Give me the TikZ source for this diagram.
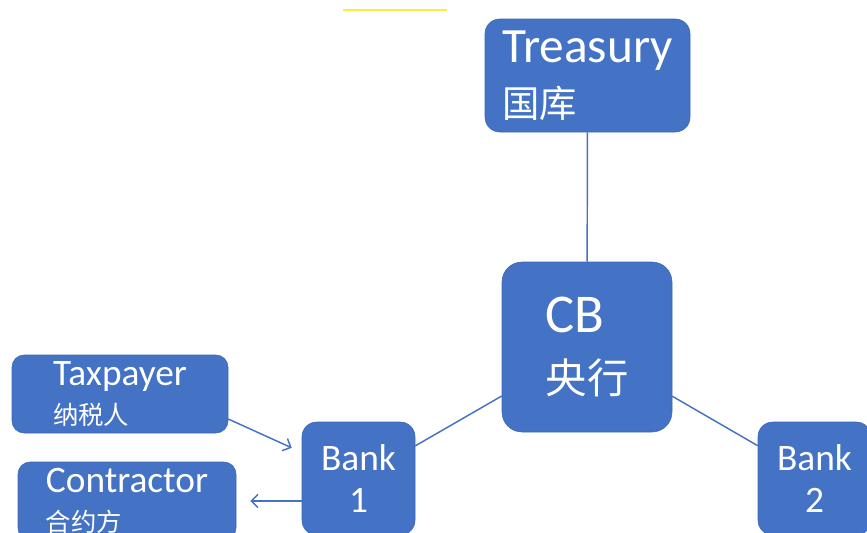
\documentclass[tikz,border=0pt]{standalone}
\usepackage{fontspec}
\setmainfont{Carlito}
\newfontfamily\cjk{Noto Sans CJK SC}
\usetikzlibrary{arrows.meta}
\definecolor{officeblue}{HTML}{4472C4}
\definecolor{markyellow}{HTML}{FFEB3B}

\begin{document}
\begin{tikzpicture}[x=0.75pt, y=-0.75pt,
    box/.style={draw=officeblue!90!black, fill=officeblue, text=white, align=left, inner sep=0pt, rounded corners=11pt},
    bankbox/.style={box, align=center, minimum width=84.75pt, minimum height=84.75pt, font=\fontsize{28}{31.5}\selectfont},
    link/.style={officeblue, line width=1.1pt},
    arrow/.style={link, -{Straight Barb[length=5pt,width=10pt]}}]
    \clip (0,0) rectangle (867,532);

    % Yellow mark at the top
    \draw[markyellow, line width=1.5pt] (343,10) -- (447,10);

    % Treasury and central bank
    \node[box, minimum width=153.75pt, minimum height=84.75pt, font=\fontsize{37}{41}\selectfont] (treasury) at (587.5,75.5)
        {Treasury\\{\cjk\fontsize{28}{28}\selectfont 国库}};
    \node[box, rounded corners=15pt, minimum width=127.5pt, minimum height=127.5pt, font=\fontsize{41}{46}\selectfont] (cb) at (587,347)
        {CB\\{\cjk\fontsize{31}{31}\selectfont 央行}};

    % Banks
    \node[bankbox] (bankone) at (358.5,478.5) {Bank\\1};
    \node[bankbox] (banktwo) at (814.5,478.5) {Bank\\2};

    % Taxpayer and contractor
    \node[box, rounded corners=9pt, minimum width=162pt, minimum height=58.5pt, font=\fontsize{28}{29}\selectfont] (taxpayer) at (120,394)
        {Taxpayer\\{\cjk\fontsize{19}{19}\selectfont 纳税人}};
    \node[box, rounded corners=9pt, minimum width=163.5pt, minimum height=58.5pt, font=\fontsize{28}{29}\selectfont] (contractor) at (127,501)
        {Contractor\\{\cjk\fontsize{19}{19}\selectfont 合约方}};

    % Links
    \draw[link] (treasury) -- (cb);
    \draw[link] (cb) -- (bankone);
    \draw[link] (cb) -- (banktwo);
    \draw[arrow] (taxpayer.-13) -- ([xshift=-7.5pt, yshift=23pt]bankone.west);
    \draw[arrow, shorten >=10.5pt] (bankone.west |- contractor.east) -- (contractor.east);
\end{tikzpicture}
\end{document}
